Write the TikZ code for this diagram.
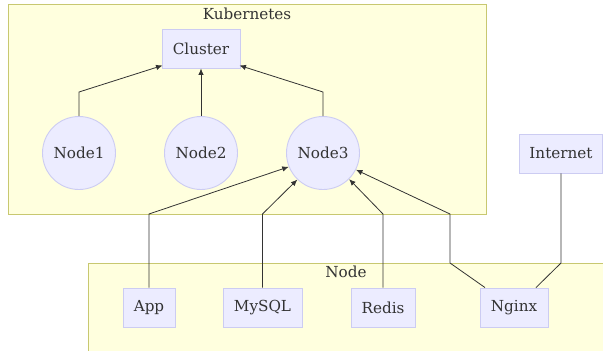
\documentclass[tikz,border=0pt]{standalone}
\usepackage{fontspec}
\setmainfont{DejaVu Serif}
\usetikzlibrary{arrows.meta}
\definecolor{grpfill}{HTML}{FFFFDE}
\definecolor{grpline}{HTML}{C8C870}
\definecolor{boxfill}{HTML}{ECECFF}
\definecolor{boxline}{HTML}{CCCCF2}
\definecolor{txt}{HTML}{333333}
\definecolor{edge}{HTML}{333333}
\tikzset{
  grp/.style={draw=grpline, fill=grpfill, line width=0.9pt},
  grplabel/.style={text=txt, font=\fontsize{15.2}{17}\selectfont, inner sep=0pt},
  box/.style={draw=boxline, fill=boxfill, line width=0.9pt, text=txt,
    font=\fontsize{15.2}{17}\selectfont, minimum height=39pt, inner sep=0pt},
  circ/.style={circle, draw=boxline, fill=boxfill, line width=0.9pt, text=txt,
    font=\fontsize{15.2}{17}\selectfont, minimum size=73pt, inner sep=0pt},
  arr/.style={draw=edge, line width=0.8pt, -{Latex[length=6.5pt,width=5.5pt]}},
  link/.style={draw=edge, line width=0.8pt},
}
\begin{document}
\begin{tikzpicture}[x=1pt,y=-1pt]
\useasboundingbox (0,0) rectangle (603,351);
\clip (0,0) rectangle (603,351);
\fill[white] (0,0) rectangle (603,351);
% groups
\draw[grp] (8,4) rectangle (486,214);
\node[grplabel] (klabel) at (247,14) {Kubernetes};
\draw[grp] (88,263) rectangle (620,370);
\node[grplabel] (nlabel) at (346,272) {Node};
% nodes
\node[box, minimum width=78pt] (cluster) at (201,48.5) {Cluster};
\node[circ] (n1) at (79,153) {Node1};
\node[circ] (n2) at (201,153) {Node2};
\node[circ] (n3) at (323,153) {Node3};
\node[box, minimum width=83pt] (internet) at (561,153.5) {Internet};
\node[box, minimum width=52pt] (app) at (149,307.5) {App};
\node[box, minimum width=79pt] (mysql) at (262.5,307.5) {MySQL};
\node[box, minimum width=64pt] (redis) at (383,307.5) {Redis};
\node[box, minimum width=68pt] (nginx) at (514,307.5) {Nginx};
% edges
\draw[arr] (n1.north) -- (79,92) -- ([xshift=1pt,yshift=3pt]cluster.south west);
\draw[arr] (n2.north) -- (cluster.south);
\draw[arr] (n3.north) -- (323,92) -- ([xshift=-1pt,yshift=3pt]cluster.south east);
\draw[arr] (app.north) -- (149,214) -- (n3.202);
\draw[arr] (mysql.north) -- (262.5,214) -- (n3.226);
\draw[arr] (redis.north) -- (383,214) -- (n3.315);
\draw[arr] ([xshift=-29pt]nginx.north) -- (450,263) -- (450,214) -- (n3.333);
\draw[link] (internet.south) -- (561,263) -- ([xshift=22pt]nginx.north);
\end{tikzpicture}
\end{document}
